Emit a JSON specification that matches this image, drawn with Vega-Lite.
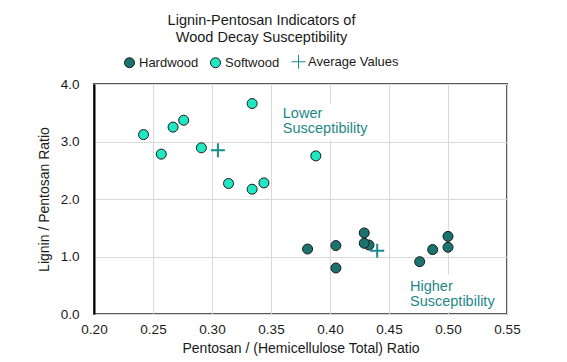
{
  "$schema": "https://vega.github.io/schema/vega-lite/v6.json",
  "width": 413,
  "height": 230,
  "autosize": {"type": "none"},
  "padding": {"left": 94, "top": 84, "right": 60, "bottom": 48},
  "background": "white",
  "config": {
    "font": "Liberation Sans",
    "view": {"stroke": "#595959", "strokeWidth": 2}
  },
  "title": {
    "text": ["Lignin-Pentosan Indicators of", "Wood Decay Susceptibility"],
    "fontSize": 14.5,
    "fontWeight": "normal",
    "color": "#1a1a1a",
    "lineHeight": 17.7,
    "anchor": "middle",
    "frame": "group",
    "dx": -39,
    "offset": 9
  },
  "datasets": {
    "points": [
      {"series": "Softwood", "x": 0.242, "y": 3.12},
      {"series": "Softwood", "x": 0.257, "y": 2.78},
      {"series": "Softwood", "x": 0.267, "y": 3.25},
      {"series": "Softwood", "x": 0.276, "y": 3.37},
      {"series": "Softwood", "x": 0.291, "y": 2.89},
      {"series": "Softwood", "x": 0.334, "y": 3.66},
      {"series": "Softwood", "x": 0.388, "y": 2.75},
      {"series": "Softwood", "x": 0.314, "y": 2.27},
      {"series": "Softwood", "x": 0.334, "y": 2.17},
      {"series": "Softwood", "x": 0.344, "y": 2.28},
      {"series": "Hardwood", "x": 0.381, "y": 1.13},
      {"series": "Hardwood", "x": 0.405, "y": 1.19},
      {"series": "Hardwood", "x": 0.405, "y": 0.80},
      {"series": "Hardwood", "x": 0.429, "y": 1.41},
      {"series": "Hardwood", "x": 0.433, "y": 1.20},
      {"series": "Hardwood", "x": 0.429, "y": 1.23},
      {"series": "Hardwood", "x": 0.476, "y": 0.91},
      {"series": "Hardwood", "x": 0.487, "y": 1.12},
      {"series": "Hardwood", "x": 0.500, "y": 1.35},
      {"series": "Hardwood", "x": 0.500, "y": 1.16},
      {"series": "Average Values", "x": 0.305, "y": 2.85},
      {"series": "Average Values", "x": 0.440, "y": 1.10}
    ],
    "notes": [
      {"x": 0.36, "y": 3.415, "x0": 0.3555, "x1": 0.4333, "y0": 3.02, "y1": 3.66, "label": ["Lower", "Susceptibility"]},
      {"x": 0.4678, "y": 0.406, "x0": 0.4646, "x1": 0.5433, "y0": 0.04, "y1": 0.685, "label": ["Higher", "Susceptibility"]}
    ]
  },
  "layer": [
    {
      "data": {"name": "notes"},
      "mark": {"type": "rect", "fill": "white", "stroke": null},
      "encoding": {
        "x": {"field": "x0", "type": "quantitative", "scale": {"domain": [0.2, 0.55]}},
        "x2": {"field": "x1"},
        "y": {"field": "y0", "type": "quantitative", "scale": {"domain": [0, 4]}},
        "y2": {"field": "y1"}
      }
    },
    {
      "data": {"name": "notes"},
      "mark": {"type": "text", "align": "left", "baseline": "alphabetic", "fontSize": 14.5, "lineHeight": 15.8, "color": "#1f8787"},
      "encoding": {
        "x": {"field": "x", "type": "quantitative"},
        "y": {"field": "y", "type": "quantitative"},
        "text": {"field": "label"}
      }
    },
    {
      "data": {"name": "points"},
      "mark": {"type": "point", "size": 100, "opacity": 1},
      "encoding": {
        "x": {
          "field": "x", "type": "quantitative",
          "scale": {"domain": [0.2, 0.55], "nice": false, "zero": false},
          "axis": {
            "title": "Pentosan / (Hemicellulose Total) Ratio",
            "values": [0.2, 0.25, 0.3, 0.35, 0.4, 0.45, 0.5, 0.55],
            "format": ".2f",
            "ticks": false,
            "domain": false,
            "labelFlush": false,
            "labelFontSize": 13.5,
            "labelColor": "#1a1a1a",
            "labelPadding": 8,
            "titleFontSize": 14,
            "titleFontWeight": "normal",
            "titleColor": "#1a1a1a",
            "titlePadding": 6,
            "gridColor": "#d9d9d9",
            "gridWidth": 1
          }
        },
        "y": {
          "field": "y", "type": "quantitative",
          "scale": {"domain": [0, 4], "nice": false},
          "axis": {
            "title": "Lignin / Pentosan Ratio",
            "values": [0, 0.5, 1, 1.5, 2, 2.5, 3, 3.5, 4],
            "format": ".1f",
            "ticks": false,
            "domain": true,
            "labelFlush": false,
            "domainColor": "#000000",
            "domainWidth": 2,
            "labelFontSize": 13.5,
            "labelColor": "#1a1a1a",
            "labelPadding": 15,
            "titleFontSize": 14,
            "titleFontWeight": "normal",
            "titleColor": "#1a1a1a",
            "titlePadding": 9,
            "gridColor": "#d9d9d9",
            "gridWidth": 1
          }
        },
        "shape": {
          "field": "series", "type": "nominal",
          "scale": {"domain": ["Hardwood", "Softwood", "Average Values"], "range": ["circle", "circle", "M-1.4,0H1.4M0,-1.4V1.4"]},
          "legend": {
            "title": null,
            "orient": "none",
            "direction": "horizontal",
            "legendX": 29,
            "legendY": -29,
            "labelFontSize": 13,
            "labelColor": "#1a1a1a",
            "labelOffset": 3,
            "columnPadding": 9,
            "symbolStrokeWidth": 1,
            "encode": {
              "symbols": {
                "update": {
                  "size": {"signal": "datum.value === 'Average Values' ? 40 : 100"},
                  "strokeWidth": {"signal": "datum.value === 'Average Values' ? 2 : 1"}
                }
              }
            }
          }
        },
        "fill": {
          "field": "series", "type": "nominal",
          "scale": {"domain": ["Hardwood", "Softwood", "Average Values"], "range": ["#1b736f", "#1fe8c3", "transparent"]},
          "legend": {"title": null}
        },
        "stroke": {
          "field": "series", "type": "nominal",
          "scale": {"domain": ["Hardwood", "Softwood", "Average Values"], "range": ["#1a1a1a", "#1a1a1a", "#1a8a8a"]},
          "legend": {"title": null}
        },
        "strokeWidth": {
          "condition": {"test": "datum.series === 'Average Values'", "value": 2},
          "value": 1
        }
      }
    }
  ]
}
